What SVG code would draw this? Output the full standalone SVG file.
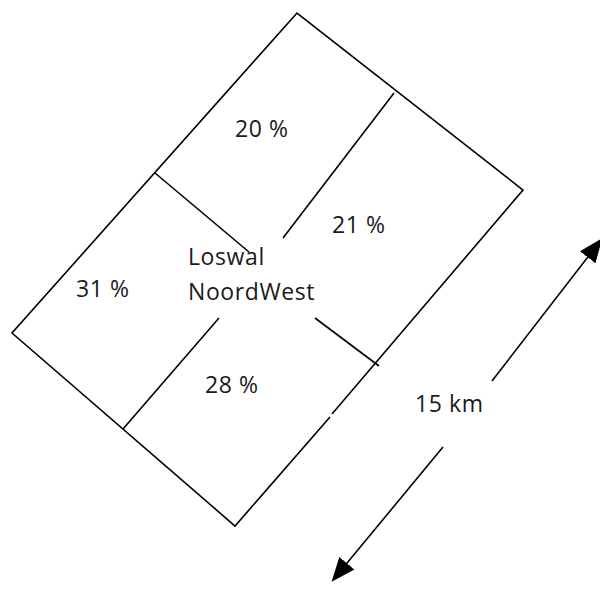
<svg xmlns="http://www.w3.org/2000/svg" width="600" height="590" viewBox="0 0 600 590">
<style>
.l{fill:none;stroke:#000;stroke-width:1.6;stroke-linecap:butt}
.t{font-family:"Open Sans","Noto Sans",sans-serif;font-size:23px;letter-spacing:0.6px;fill:#1a1a1a}
</style>
<defs>
<marker id="ah" markerUnits="userSpaceOnUse" markerWidth="24" markerHeight="20" refX="20" refY="9" orient="auto" viewBox="0 0 22 18">
<path d="M0,0 L22,9 L0,18 z" fill="#000"/>
</marker>
</defs>
<rect width="600" height="590" fill="#fff"/>
<g id="connectors">
<path class="l" d="M332,414 L523,190 L297,13 L12,333 L235,526 L330,417"/>
<path class="l" d="M155,173 L249,252"/>
<path class="l" d="M394,93 L283,238"/>
<path class="l" d="M219,318 L123,429"/>
<path class="l" d="M315,318 L379,366"/>
<path class="l" d="M492,381 L601,240" marker-end="url(#ah)"/>
<path class="l" d="M443,447 L333,580" marker-end="url(#ah)"/>
</g>
<g id="n20"><text class="t" x="235" y="137">20 %</text></g>
<g id="n21"><text class="t" x="332" y="233">21 %</text></g>
<g id="n31"><text class="t" x="76" y="297">31 %</text></g>
<g id="n28"><text class="t" x="205" y="393">28 %</text></g>
<g id="center"><text class="t" x="188" y="265">Loswal</text><text class="t" x="188" y="300">NoordWest</text></g>
<g id="dist"><text class="t" x="415" y="412">15 km</text></g>
</svg>
